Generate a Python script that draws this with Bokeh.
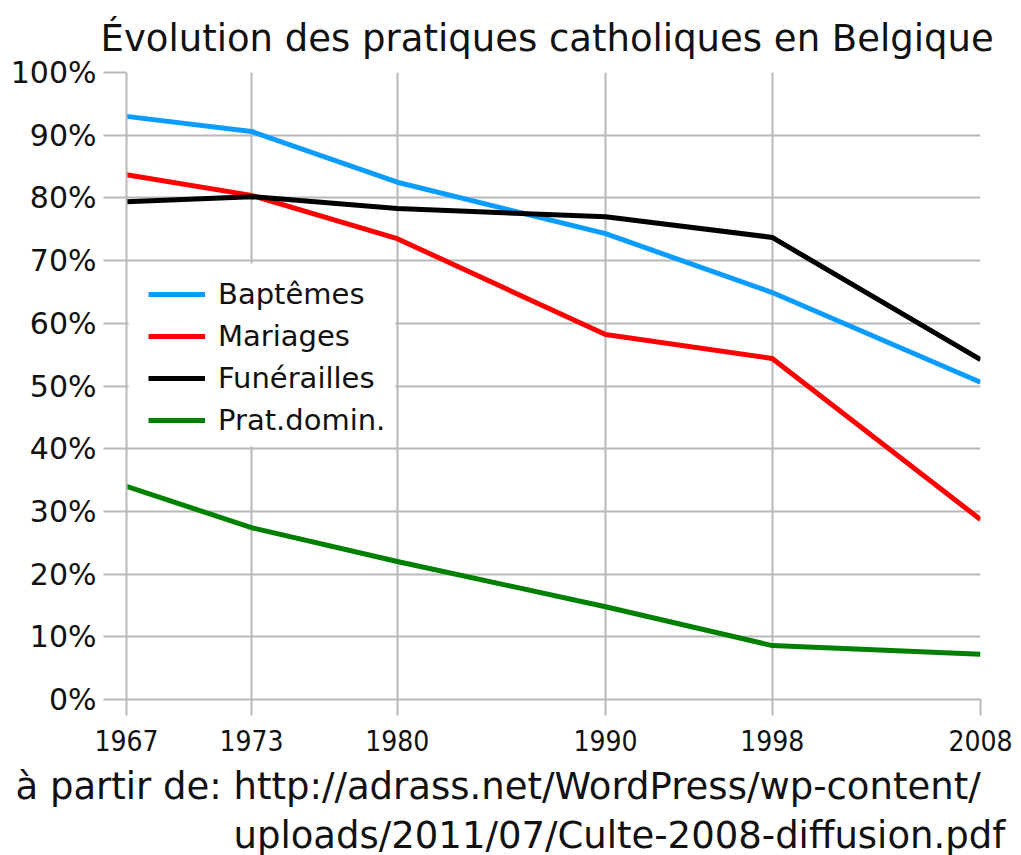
from bokeh.plotting import figure
from bokeh.models import (Range1d, FixedTicker, PrintfTickFormatter, Legend, LegendItem,
                          BoxAnnotation, Title)
from bokeh.embed import file_html
from bokeh.resources import INLINE

years = [1967, 1973, 1980, 1990, 1998, 2008]
baptemes = [93.0, 90.6, 82.5, 74.3, 64.9, 50.6]
mariages = [83.7, 80.4, 73.5, 58.2, 54.4, 28.7]
funerailles = [79.4, 80.2, 78.3, 77.0, 73.7, 54.2]
prat_domin = [34.0, 27.4, 22.0, 14.8, 8.6, 7.2]
series_names = ["Baptêmes", "Mariages", "Funérailles", "Prat.domin."]
series_colors = ["#0a9dff", "#ff0000", "#000000", "#008000"]
y_ticks = [0, 10, 20, 30, 40, 50, 60, 70, 80, 90, 100]

TITLE = "Évolution des pratiques catholiques en Belgique"
SOURCE_LINE_1 = "à partir de:  http://adrass.net/WordPress/wp-content/"
SOURCE_LINE_2 = "uploads/2011/07/Culte-2008-diffusion.pdf"

FONT = "DejaVu Sans"
GRID = "#b8b8b8"
TXT = "#111111"

p = figure(width=1021, height=855, output_backend="svg", toolbar_location=None,
           x_range=Range1d(1967, 2008), y_range=Range1d(0, 100),
           min_border_left=126, min_border_right=41, min_border_top=72,
           min_border_bottom=156)
p.outline_line_color = None
p.background_fill_color = "white"

p.add_layout(Title(text=TITLE, align="left", offset=-26, standoff=26,
                   text_font=FONT, text_font_size="37px", text_font_style="normal",
                   text_color=TXT), "above")

# axes
p.xaxis.ticker = FixedTicker(ticks=years)
p.yaxis.ticker = FixedTicker(ticks=y_ticks)
p.yaxis.formatter = PrintfTickFormatter(format="%d%%")
for ax in (p.xaxis[0], p.yaxis[0]):
    ax.axis_line_color = GRID
    ax.axis_line_width = 2
    ax.major_tick_line_color = GRID
    ax.major_tick_line_width = 2
    ax.minor_tick_line_color = None
    ax.major_tick_in = 0
    ax.major_label_text_font = FONT
    ax.major_label_text_color = TXT
p.yaxis.major_tick_out = 23
p.yaxis.major_label_standoff = 7
p.yaxis.major_label_text_font_size = "30px"
p.xaxis.major_tick_out = 16
p.xaxis.major_label_standoff = 14
p.xaxis.major_label_text_font = "DejaVu Sans Condensed"
p.xaxis.major_label_text_font_size = "28px"

p.xgrid.ticker = FixedTicker(ticks=years)
p.ygrid.ticker = FixedTicker(ticks=y_ticks)
for g in (p.xgrid[0], p.ygrid[0]):
    g.grid_line_color = GRID
    g.grid_line_width = 2

# white legend background box (hides grid lines behind the legend)
p.add_layout(BoxAnnotation(left=128, right=395, top=263, bottom=446,
                           left_units="canvas", right_units="canvas",
                           top_units="canvas", bottom_units="canvas",
                           fill_color="white", fill_alpha=1.0, line_color=None,
                           level="annotation"))

items = []
for name, vals, col in zip(series_names, [baptemes, mariages, funerailles, prat_domin], series_colors):
    r = p.line(years, vals, line_color=col, line_width=5, line_join="round")
    items.append(LegendItem(label=name, renderers=[r]))

legend = Legend(items=items, location=(22, 262), padding=0, spacing=8,
                glyph_width=57, glyph_height=20, label_standoff=13,
                label_text_font=FONT, label_text_font_size="29px",
                label_text_color=TXT,
                background_fill_alpha=0, border_line_color=None, margin=0)
p.add_layout(legend, "center")

# source note below the chart
p.add_layout(Title(text=SOURCE_LINE_1, align="left", offset=-111, standoff=19,
                   text_font=FONT, text_font_size="37px", text_font_style="normal",
                   text_color=TXT), "below")
p.add_layout(Title(text=SOURCE_LINE_2, align="left", offset=107, standoff=-12,
                   text_font=FONT, text_font_size="37px", text_font_style="normal",
                   text_color=TXT), "below")

open("out.html", "w").write(file_html(p, INLINE))
